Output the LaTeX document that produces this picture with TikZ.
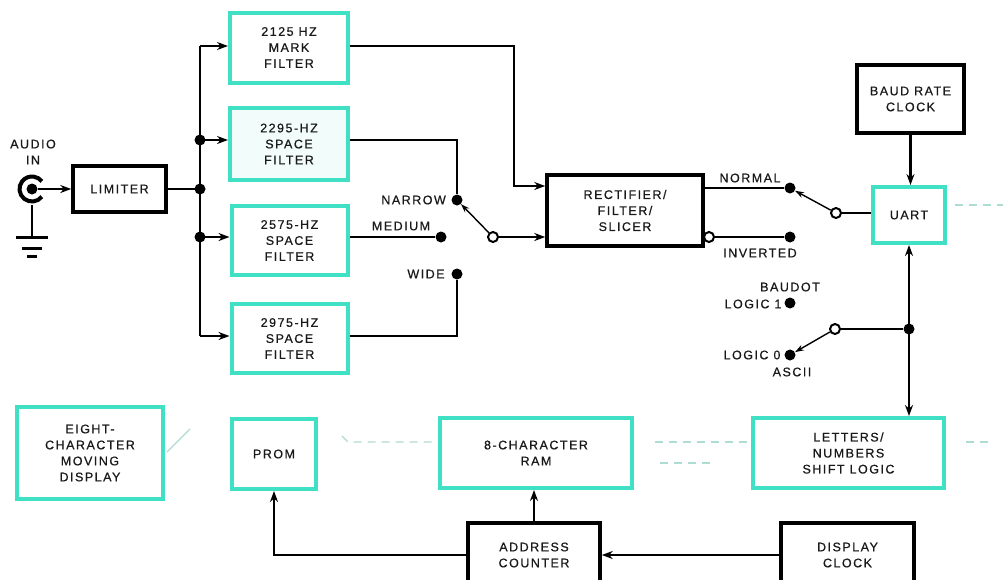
\documentclass[tikz,border=0pt]{standalone}
\usepackage{fontspec}
\setmainfont{Liberation Sans}[LetterSpace=12,FakeBold=0.6]
\usetikzlibrary{arrows.meta}
\definecolor{cyanb}{RGB}{64,224,196}
\definecolor{faint}{RGB}{175,220,210}
\begin{document}
\begin{tikzpicture}[x=1pt,y=-1pt,
  every node/.style={font=\fontsize{12.5}{16}\selectfont, text=black!90},
  cbox/.style={draw=cyanb, line width=4pt, fill=white, align=center, inner sep=0pt},
  kbox/.style={draw=black, line width=3.5pt, fill=white, align=center, inner sep=0pt},
  wire/.style={line width=2.8pt},
  arr/.style={line width=2.8pt, -{Stealth[length=11pt,width=8pt]}},
  darr/.style={line width=2.8pt, {Stealth[length=11pt,width=8pt]}-{Stealth[length=11pt,width=8pt]}},
  arm/.style={line width=1.4pt, -{Stealth[length=9pt,width=6pt]}},
  dotn/.style={circle, fill=black, inner sep=0pt, minimum size=11pt},
  odot/.style={circle, draw=black, fill=white, line width=2pt, inner sep=0pt, minimum size=10pt},
  lbl/.style={inner sep=0pt, align=center},
  fdash/.style={draw=faint, line width=1.2pt, dash pattern=on 8pt off 6pt}]
\useasboundingbox (0,0) rectangle (1003,579);
\clip (0,0) rectangle (1003,579);
\fill[white] (0,0) rectangle (1003,579);

% boxes
\node[kbox, minimum width=93, minimum height=46] (limiter) at (119.5,189) {LIMITER};
\node[cbox, minimum width=118, minimum height=70] (mark) at (289,47.5) {2125 HZ\\MARK\\FILTER};
\node[cbox, fill=cyanb!7, minimum width=118, minimum height=72] (s2295) at (289,144) {2295-HZ\\SPACE\\FILTER};
\node[cbox, minimum width=116, minimum height=69] (s2575) at (289.5,240.5) {2575-HZ\\SPACE\\FILTER};
\node[cbox, minimum width=116, minimum height=69] (s2975) at (289.5,338.5) {2975-HZ\\SPACE\\FILTER};
\node[kbox, minimum width=156, minimum height=71] (rect) at (625,210.5) {RECTIFIER/\\FILTER/\\SLICER};
\node[cbox, minimum width=72, minimum height=56] (uart) at (909,215) {UART};
\node[kbox, minimum width=107, minimum height=68] (baud) at (910.5,99) {BAUD RATE\\CLOCK};
\node[cbox, minimum width=191, minimum height=70] (letters) at (848.5,453) {LETTERS/\\NUMBERS\\SHIFT LOGIC};
\node[cbox, minimum width=192, minimum height=70] (ram) at (536,453) {8-CHARACTER\\RAM};
\node[cbox, minimum width=84, minimum height=70] (prom) at (274,454) {PROM};
\node[cbox, minimum width=146, minimum height=92] (eight) at (90,453) {EIGHT-\\CHARACTER\\MOVING\\DISPLAY};
\node[kbox, minimum width=132, minimum height=64] (addr) at (534,555) {ADDRESS\\COUNTER};
\node[kbox, minimum width=133, minimum height=64] (dclk) at (847.5,555) {DISPLAY\\CLOCK};

% audio jack and ground
\node[circle, fill=black, inner sep=0pt, minimum size=11pt] (jack) at (32,189) {};
\draw[line width=4pt] (jack.center) ++(38:12.5) arc[start angle=38, end angle=322, radius=12.5];
\coordinate (gnd) at (32,237);
\draw[wire] ([yshift=-10pt]jack.south) -- (gnd);
\draw[line width=3pt] (gnd) +(-16,0) -- +(16,0);
\draw[line width=3pt] (gnd) ++(0,11) +(-10,0) -- +(10,0);
\draw[line width=3pt] (gnd) ++(0,19.5) +(-5,0) -- +(5,0);
\draw[arr] (jack.east) -- (limiter.west);
\node[lbl] (audio) at (33,152) {AUDIO\\IN};

% distribution bus
\coordinate (j1) at (200,46);
\coordinate (j2) at (200,140);
\coordinate (j3) at (200,189);
\coordinate (j4) at (200,237);
\coordinate (j5) at (200,336);
\draw[wire] (j1) -- (j5);
\draw[wire] (limiter.east) -- (j3);
\draw[arr] (j1) -- (mark.west |- j1);
\draw[arr] (j2) -- (s2295.west |- j2);
\draw[arr] (j4) -- (s2575.west |- j4);
\draw[arr] (j5) -- (s2975.west |- j5);
\node[dotn] at (j2) {};
\node[dotn] at (j3) {};
\node[dotn] at (j4) {};

% filter outputs and bandwidth switch
\coordinate (m1) at (514,46);
\coordinate (m2) at (514,186);
\draw[arr] (mark.east |- j1) -- (m1) -- (m2) -- (rect.west |- m2);
\node[dotn] (cN) at (457,200) {};
\coordinate (n0) at (457,140);
\draw[wire] (s2295.east |- j2) -- (n0) -- (cN);
\node[dotn] (cM) at (441,237) {};
\draw[wire] (s2575.east |- j4) -- (cM);
\node[dotn] (cW) at (457,274) {};
\coordinate (w0) at (457,336);
\draw[wire] (s2975.east |- j5) -- (w0) -- (cW);
\node[odot] (pS) at (493,237) {};
\draw[arr] (pS) -- (rect.west |- pS);
\draw[arm] (pS) -- (cN);
\node[lbl, anchor=east] (lnarrow) at (446,200) {NARROW};
\node[lbl] (lmedium) at (401,226) {MEDIUM};
\node[lbl] (lwide) at (426,274) {WIDE};

% normal / inverted switch
\node[dotn] (cNo) at (790,188) {};
\draw[wire] (rect.east |- cNo) -- (cNo);
\node[odot] (inv) at (709,237) {};
\node[dotn] (cIn) at (790,237) {};
\draw[wire] (inv) -- (cIn);
\node[odot] (pU) at (836,213) {};
\draw[wire] (pU) -- (uart.west |- pU);
\draw[arm] (pU) -- (cNo);
\node[lbl] (lnormal) at (750,178) {NORMAL};
\node[lbl] (linv) at (760,253) {INVERTED};

% clock to UART, UART to shift logic
\draw[arr] (baud.south) -- (baud.south |- uart.north);
\draw[darr] (uart.south) -- (uart.south |- letters.north);
\node[dotn] (jB) at (909,329) {};
\node[dotn] (cL1) at (790,303) {};
\node[dotn] (cL0) at (790,355) {};
\node[odot] (pB) at (835,329) {};
\draw[wire] (pB) -- (jB);
\draw[arm] (pB) -- (cL0);
\node[lbl] (lbaudot) at (790,287) {BAUDOT};
\node[lbl] (llog1) at (753,304) {LOGIC 1};
\node[lbl] (llog0) at (752,355) {LOGIC 0};
\node[lbl] (lascii) at (792,372) {ASCII};

% display section
\draw[arr] (dclk) -- (addr);
\draw[arr] (addr.north) -- (addr.north |- ram.south);
\draw[arr] (addr.west) -| (prom.south);

% faint dashed traces
\draw[fdash] (955,205) -- (1003,205);
\draw[fdash] (342,436) -- (348,442) -- (432,442);
\draw[fdash] (655,442) -- (750,442);
\draw[fdash] (966,442) -- (990,442);
\draw[fdash] (660,463) -- (712,463);
\draw[faint, line width=1.2pt] (167,452) -- (190,429);
\end{tikzpicture}
\end{document}
